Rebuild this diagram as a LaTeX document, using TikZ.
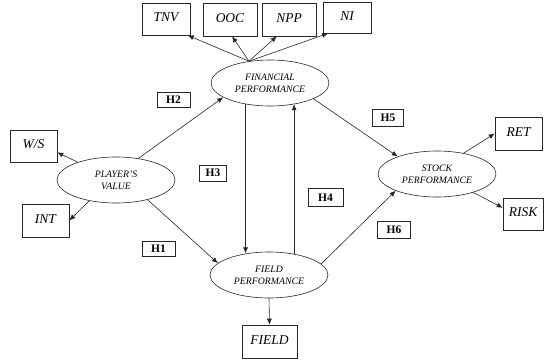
\documentclass[tikz,border=0pt]{standalone}
\usepackage{fontspec}
\setmainfont{Liberation Serif}
\usetikzlibrary{shapes.geometric,arrows.meta}
\begin{document}
\begin{tikzpicture}[x=1pt,y=-1pt,
  ind/.style={draw=black!85, line width=0.6pt, rectangle, inner sep=0pt, text depth=3pt,
    font=\fontsize{13.5}{15}\selectfont\itshape},
  lat/.style={draw=black!85, line width=0.6pt, ellipse, minimum width=118pt, minimum height=46pt,
    inner sep=0pt, align=center, font=\fontsize{9.8}{12}\selectfont\itshape},
  hyp/.style={draw=black!85, line width=0.8pt, rectangle, inner sep=0pt,
    font=\fontsize{11.5}{13}\selectfont\bfseries},
  arr/.style={draw=black!85, line width=0.6pt, -{Latex[length=6pt,width=5pt]}},
  ln/.style={draw=black!85, line width=0.6pt}
]
\useasboundingbox (0,0) rectangle (544,361);
% latent variables
\node[lat] (pv)  at (116,180) {PLAYER'S\\VALUE};
\node[lat] (fin) at (270,83)  {FINANCIAL\\PERFORMANCE};
\node[lat] (fld) at (269,275) {FIELD\\PERFORMANCE};
\node[lat] (stk) at (437,174) {STOCK\\PERFORMANCE};
% indicators
\node[ind, minimum width=48pt, minimum height=32pt] (tnv) at (166,19) {TNV};
\node[ind, minimum width=54pt, minimum height=33pt] (ooc) at (230,19.5) {OOC};
\node[ind, minimum width=54pt, minimum height=33pt] (npp) at (289,19.5) {NPP};
\node[ind, minimum width=48pt, minimum height=31pt] (ni)  at (347,17.5) {NI};
\node[ind, minimum width=47pt, minimum height=32pt] (ws)  at (33.5,146) {W/S};
\node[ind, minimum width=47pt, minimum height=33pt] (int) at (45.5,220.5) {INT};
\node[ind, minimum width=47pt, minimum height=33pt] (ret) at (518.5,133.5) {RET};
\node[ind, minimum width=40pt, minimum height=32pt] (risk) at (523,214) {RISK};
\node[ind, minimum width=55pt, minimum height=33pt] (field) at (269.5,341.5) {FIELD};
% hypothesis labels
\node[hyp, minimum width=33pt, minimum height=15pt] (h2) at (173.5,99.5) {H2};
\node[hyp, minimum width=31pt, minimum height=17pt] (h5) at (388,118) {H5};
\node[hyp, minimum width=27pt, minimum height=16pt] (h3) at (213,173) {H3};
\node[hyp, minimum width=35pt, minimum height=18pt] (h4) at (325.5,197.5) {H4};
\node[hyp, minimum width=33pt, minimum height=15pt] (h1) at (158.5,248.5) {H1};
\node[hyp, minimum width=33pt, minimum height=17pt] (h6) at (394,229.5) {H6};
% financial indicators
\coordinate (ftop) at (fin.134);
\draw[arr] (ftop) -- (tnv.-37);
\draw[arr] (ftop) -- (ooc.-83);
\draw[arr] (ftop) -- (npp.234);
\draw[arr] (ftop) -- (ni.220);
% player's value indicators
\draw[arr] (pv.155) -- (ws.-15);
\draw[arr] (pv.218) -- (int.east);
% stock indicators
\draw[arr] (stk.38) -- (ret.west);
\draw[arr] (stk.333) -- (risk.163);
% field indicator
\draw[arr] (fld.south) -- (field.north);
% structural paths
\draw[arr] (pv.44) -- (fin.197);
\draw[arr] (pv.328) -- (fld.167);
\draw[arr] (fin.221) -- (fin.221 |- fld.135);
\draw[arr] (fld.40) -- (fld.40 |- fin.319);
\draw[arr] (fin.340) -- (stk.156);
\draw[arr] (fld.12) -- (stk.202);
\end{tikzpicture}
\end{document}
